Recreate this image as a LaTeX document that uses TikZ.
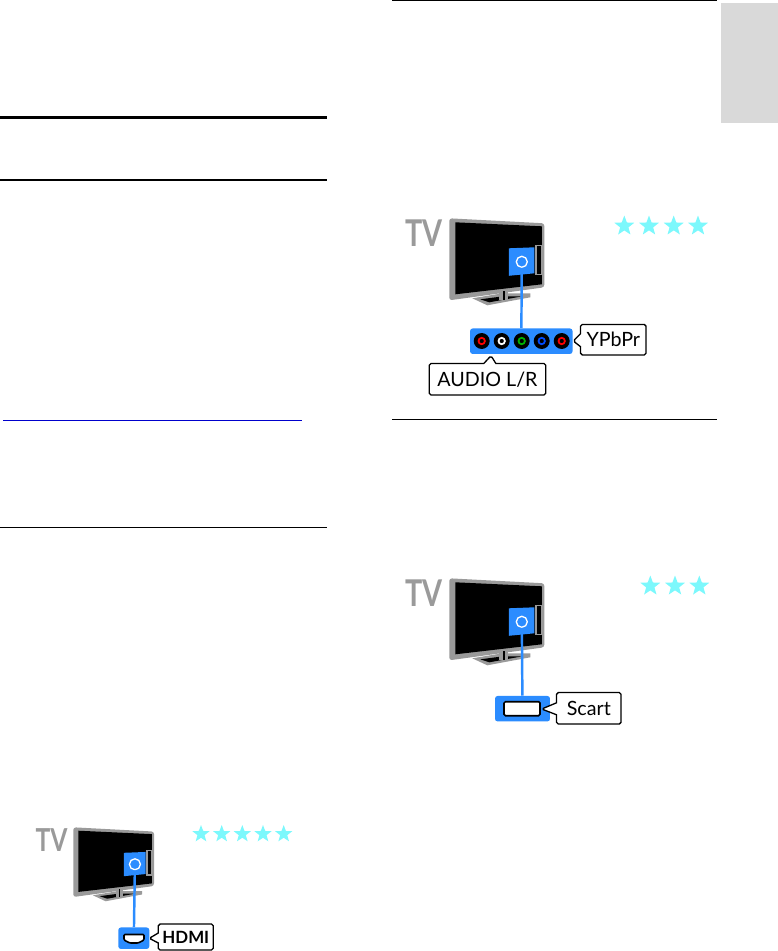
\documentclass[tikz,border=0pt]{standalone}
\usepackage{fontspec}
\setmainfont{Lato}
\usepackage{xcolor}
\usepackage{graphicx}
\usetikzlibrary{positioning,shapes.geometric,shapes.callouts}
\definecolor{portblue}{HTML}{2B8CFF}
\definecolor{stargreen}{HTML}{7CF8FC}
\definecolor{tvgray}{HTML}{9A9A9A}
\definecolor{tabgray}{HTML}{D9D9D9}
\definecolor{linkblue}{HTML}{0000CC}
\newcommand{\tvword}{\scalebox{0.78}[1]{\bfseries TV}}
% TV icon: #1 = top left corner, #2 = scale, #3 = name of the ring
\newcommand{\tvicon}[3]{
  \begin{scope}[shift={#1}, scale=#2]
    \fill[tvgray, rounded corners=1.5] (0,0) -- (95,5) -- (95,69) -- (0,82) -- cycle;
    \fill[black] (6,4) -- (92.5,8) -- (92.5,66) -- (6,76) -- cycle;
    \fill[tvgray] (23,80) -- (53,75) -- (81,75) -- (81,79) -- (38,87) -- cycle;
    \fill[black] (31,81) -- (54,78) -- (73,78) -- (40,84) -- cycle;
    \fill[tvgray] (50,73) rectangle (59,82);
    \fill[black] (53.5,73) rectangle (55.5,82);
    \fill[portblue] (59.5,30) -- (85,29) -- (85,55) -- (59.5,57.5) -- cycle;
    \draw[tvgray, line width=0.8] (86.5,27) rectangle (92.5,56);
    \node[ring] (#3) at (72.5,43.5) {};
  \end{scope}
}
\begin{document}
\begin{tikzpicture}[
  x=0.02cm, y=-0.02cm,
  rule/.style={line width=0.75pt, black},
  ring/.style={circle, draw=white, fill=portblue, line width=0.75pt,
               minimum size=2.2mm, inner sep=0pt},
  wire/.style={portblue, line width=1.4pt},
  port/.style={fill=portblue, rounded corners=1.5pt, inner sep=0pt},
  hole/.style={draw=black, fill=white, line width=0.9pt},
  jack/.style={circle, draw=black, line width=1.1pt, fill=black, minimum size=2.8mm,
               inner sep=0pt},
  tag/.style={rectangle callout, draw=black, fill=white, line width=0.75pt,
              rounded corners=1pt, inner sep=0pt, font=\fontsize{11.2}{13}\selectfont},
  tvtext/.style={text=tvgray, inner sep=0pt, font=\fontsize{21}{24}\selectfont},
  star5/.style={star, star points=5, star point ratio=2.4, fill=stargreen,
                inner sep=0pt, minimum size=#1},
]
\useasboundingbox (0,0) rectangle (778,951);

% === Page rules and tab ===
\fill[tabgray] (721,3.3) rectangle (778,122.7);
\draw[black, line width=2.2pt] (0,117.5) -- (327,117.5);
\draw[rule] (0,180) -- (327,180);
\draw[rule] (0,527.3) -- (327,527.3);
\draw[rule] (392,0.7) -- (717,0.7);
\draw[rule] (392,419.5) -- (717,419.5);
\draw[linkblue, line width=0.5pt] (3,420.3) -- (302,420.3);

% === YPbPr ===
\node[tvtext] (tvA) at (424,233.5) {\tvword};
\tvicon{(449.3,218.3)}{1}{ringA}
\foreach \x/\n in {624.3/1,649/2,673.7/3,698/4} {
  \node[star5=4.2mm] (starA\n) at (\x,226) {};
}
\node[port, minimum width=2.05cm, minimum height=0.51cm] (portA) at (521.3,341.2) {};
\draw[wire] (ringA) -- (portA);
\foreach \x/\c/\n in {481.7/red/1,501.7/white/2,521.7/green!70!black/3,541.7/blue!70!cyan/4,561.7/red/5} {
  \node[jack] (jackA\n) at (\x,341) {};
  \draw[\c, line width=1pt] (jackA\n.center) circle[radius=3.2];
}
\node[tag, minimum width=1.31cm, minimum height=0.61cm,
      callout absolute pointer={(573.3,341)}, callout pointer width=0.26cm] (tagA) at (613.3,339.7) {YPbPr};
\node[tag, minimum width=2.33cm, minimum height=0.63cm,
      callout absolute pointer={(491,355.7)}, callout pointer width=0.24cm] (tagB) at (487.5,379.2) {AUDIO L/R};

% === Scart ===
\node[tvtext] (tvB) at (424,593.5) {\tvword};
\tvicon{(449.3,578.3)}{1}{ringB}
\foreach \x/\n in {650.3/1,675/2,699.3/3} {
  \node[star5=4.2mm] (starB\n) at (\x,586) {};
}
\node[port, minimum width=1.1cm, minimum height=0.51cm] (portB) at (522.5,708.7) {};
\draw[wire] (ringB) -- (portB);
\draw[hole, rounded corners=0.8pt] (504,701.7) -- (540,701.7) -- (540,715.7) -- (504,715.7) -- cycle;
\node[tag, minimum width=1.29cm, minimum height=0.63cm,
      callout absolute pointer={(541.7,709)}, callout pointer width=0.24cm] (tagC) at (588.8,708.3) {Scart};

% === HDMI ===
\node[tvtext, font=\fontsize{18}{20}\selectfont] (tvC) at (51.6,840.5) {\tvword};
\tvicon{(73.3,827.3)}{0.85}{ringC}
\foreach \x/\n in {201/1,221.7/2,242.3/3,263/4,283.7/5} {
  \node[star5=3.6mm] (starC\n) at (\x,834) {};
}
\node[port, minimum width=0.62cm, minimum height=0.43cm] (portC) at (133.8,938.2) {};
\draw[wire] (ringC) -- (portC);
\draw[hole, rounded corners=0.6pt] (124,934.5) -- (144,934.5) -- (144,940) -- (138,943) -- (130,943) -- (124,940) -- cycle;
\node[tag, font=\fontsize{9.6}{12}\selectfont\bfseries, minimum width=1.1cm, minimum height=0.52cm,
      callout absolute pointer={(149.3,938.3)}, callout pointer width=0.2cm] (tagD) at (185.8,937) {HDMI};

\end{tikzpicture}
\end{document}
